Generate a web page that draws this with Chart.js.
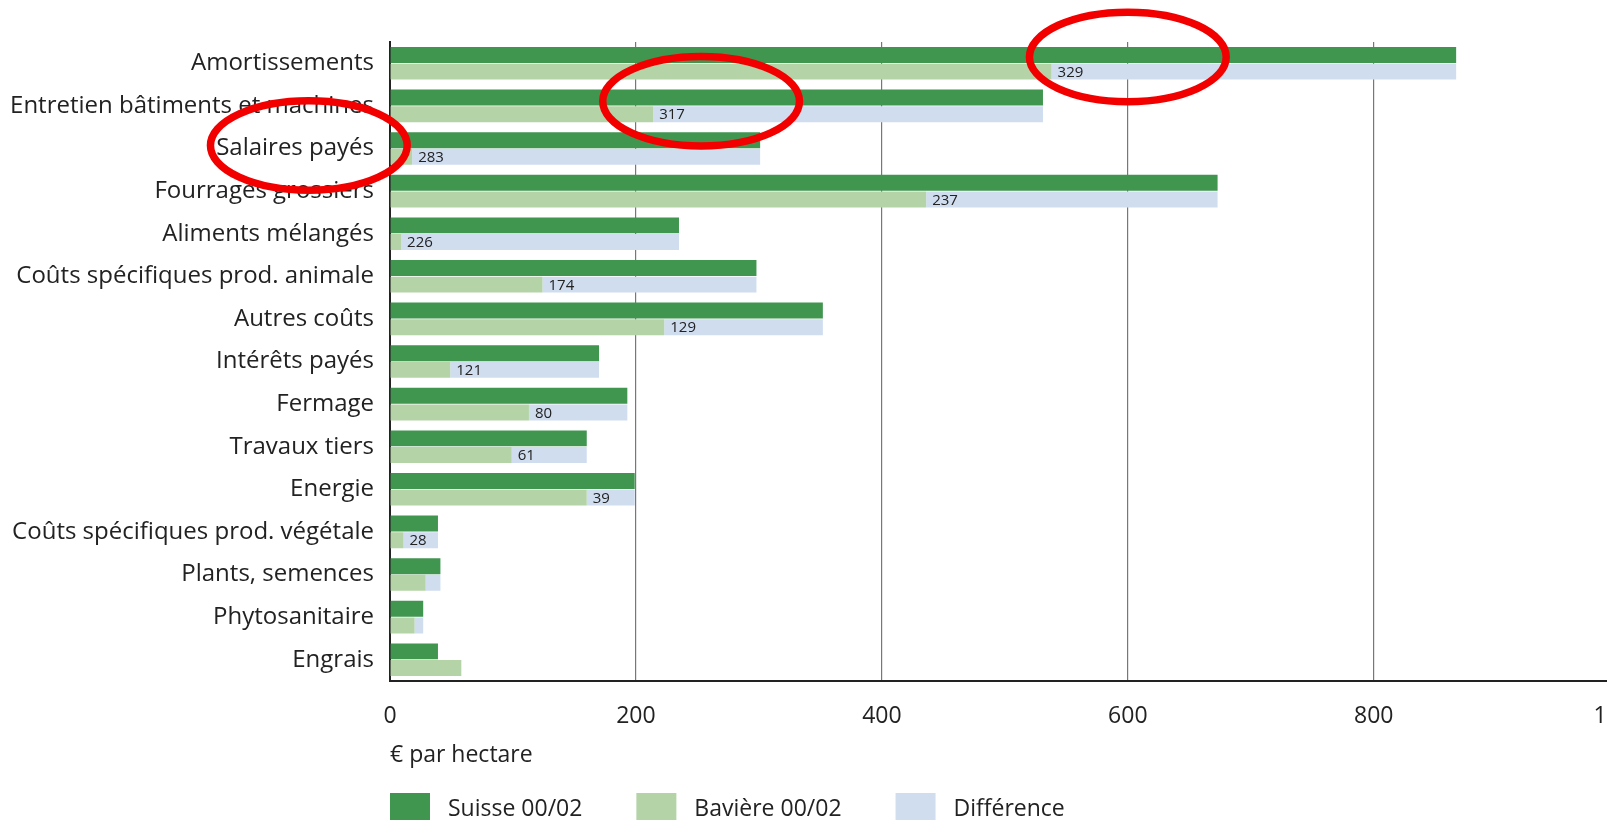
<!DOCTYPE html>
<html>
<head>
<meta charset="utf-8">
<script src="https://cdn.jsdelivr.net/npm/chart.js@4/dist/chart.umd.min.js"></script>
<style>
  html, body { margin: 0; padding: 0; background: #fff; overflow: hidden; }
  #wrap { position: relative; width: 1668px; height: 840px; }
</style>
</head>
<body>
<div id="wrap"><canvas id="chart"></canvas></div>
<script>
'use strict';

const categories = [
  'Amortissements',
  'Entretien bâtiments et machines',
  'Salaires payés',
  'Fourrages grossiers',
  'Aliments mélangés',
  'Coûts spécifiques prod. animale',
  'Autres coûts',
  'Intérêts payés',
  'Fermage',
  'Travaux tiers',
  'Energie',
  'Coûts spécifiques prod. végétale',
  'Plants, semences',
  'Phytosanitaire',
  'Engrais',
];
const suisse = [867, 531, 301, 673, 235, 298, 352, 170, 193, 160, 199, 39, 41, 27, 39];
const baviere = [538, 214, 18, 436, 9, 124, 223, 49, 113, 99, 160, 11, 29, 20, 58];
const difference = [329, 317, 283, 237, 226, 174, 129, 121, 80, 61, 39, 28, 12, 7, 0];
const xTicks = [0, 200, 400, 600, 800, 1000];

// red hand-drawn highlights: [category index offset, x value]
const highlights = [
  { cat: -0.15, value: 600 },
  { cat: 0.89, value: 253 },
  { cat: 1.93, value: -66 },
];

const FONT = "'Open Sans', sans-serif";
const TEXT = '#222';
const colors = { suisse: '#40954f', baviere: '#b4d4a7', diff: '#cfddef' };

Chart.defaults.font.family = FONT;
Chart.defaults.color = TEXT;

const diffLabels = {
  id: 'diffLabels',
  afterDatasetsDraw(chart) {
    const ctx = chart.ctx;
    const meta = chart.getDatasetMeta(2);
    ctx.save();
    ctx.font = `15px ${FONT}`;
    ctx.fillStyle = TEXT;
    ctx.textBaseline = 'middle';
    ctx.textAlign = 'left';
    meta.data.forEach((bar, i) => {
      if (difference[i] < 20) return;
      ctx.fillText(String(difference[i]), bar.base + 6, bar.y + 1);
    });
    ctx.restore();
  },
};

const bottomLegend = {
  id: 'bottomLegend',
  afterDraw(chart) {
    const ctx = chart.ctx;
    let x = chart.chartArea.left;
    const top = 793;
    ctx.save();
    ctx.font = `23px ${FONT}`;
    ctx.textBaseline = 'middle';
    chart.data.datasets.forEach(ds => {
      ctx.fillStyle = ds.backgroundColor;
      ctx.fillRect(x, top, 40, 32);
      x += 58;
      ctx.fillStyle = TEXT;
      ctx.fillText(ds.label, x, top + 16);
      x += ctx.measureText(ds.label).width + 54;
    });
    ctx.restore();
  },
};

const redCircles = {
  id: 'redCircles',
  afterDraw(chart) {
    const ctx = chart.ctx;
    const xs = chart.scales.x;
    const ys = chart.scales.y;
    ctx.save();
    ctx.strokeStyle = '#f20000';
    ctx.lineWidth = 7.5;
    highlights.forEach(h => {
      const cx = xs.getPixelForValue(h.value);
      const cy = ys.getPixelForValue(h.cat);
      const rx = xs.getPixelForValue(h.value + 80) - cx;
      const ry = ys.getPixelForValue(h.cat + 1.05) - cy;
      ctx.beginPath();
      ctx.ellipse(cx, cy, rx, ry, 0, 0, Math.PI * 2);
      ctx.stroke();
    });
    ctx.restore();
  },
};

new Chart(document.getElementById('chart'), {
  type: 'bar',
  data: {
    labels: categories,
    datasets: [
      { label: 'Suisse 00/02', data: suisse, backgroundColor: colors.suisse, stack: 'ch' },
      { label: 'Bavière 00/02', data: baviere, backgroundColor: colors.baviere, stack: 'by' },
      { label: 'Différence', data: difference, backgroundColor: colors.diff, stack: 'by' },
    ],
  },
  options: {
    indexAxis: 'y',
    responsive: true,
    maintainAspectRatio: false,
    animation: false,
    categoryPercentage: 0.78,
    barPercentage: 0.96,
    layout: { padding: { top: 42, bottom: 69, left: 0, right: 0 } },
    plugins: {
      legend: { display: false },
      tooltip: { enabled: false },
    },
    scales: {
      x: {
        stacked: true,
        min: 0,
        max: 1000,
        afterBuildTicks: s => { s.ticks = xTicks.map(v => ({ value: v })); },
        afterFit: s => { s.height = 90; },
        grid: { color: '#777', lineWidth: 1.2, drawTicks: false },
        border: { color: '#222', width: 2 },
        ticks: { font: { size: 23 }, padding: 22, color: TEXT, callback: v => String(v) },
        title: {
          display: true,
          text: '€ par hectare',
          align: 'start',
          font: { size: 23 },
          color: TEXT,
          padding: { top: 0, bottom: 2 },
        },
      },
      y: {
        stacked: true,
        afterFit: s => { s.width = 390; },
        grid: { display: false, drawTicks: false },
        border: { color: '#222', width: 2 },
        ticks: { font: { size: 24 }, padding: 16, color: TEXT },
      },
    },
  },
  plugins: [diffLabels, bottomLegend, redCircles],
});
</script>
</body>
</html>
